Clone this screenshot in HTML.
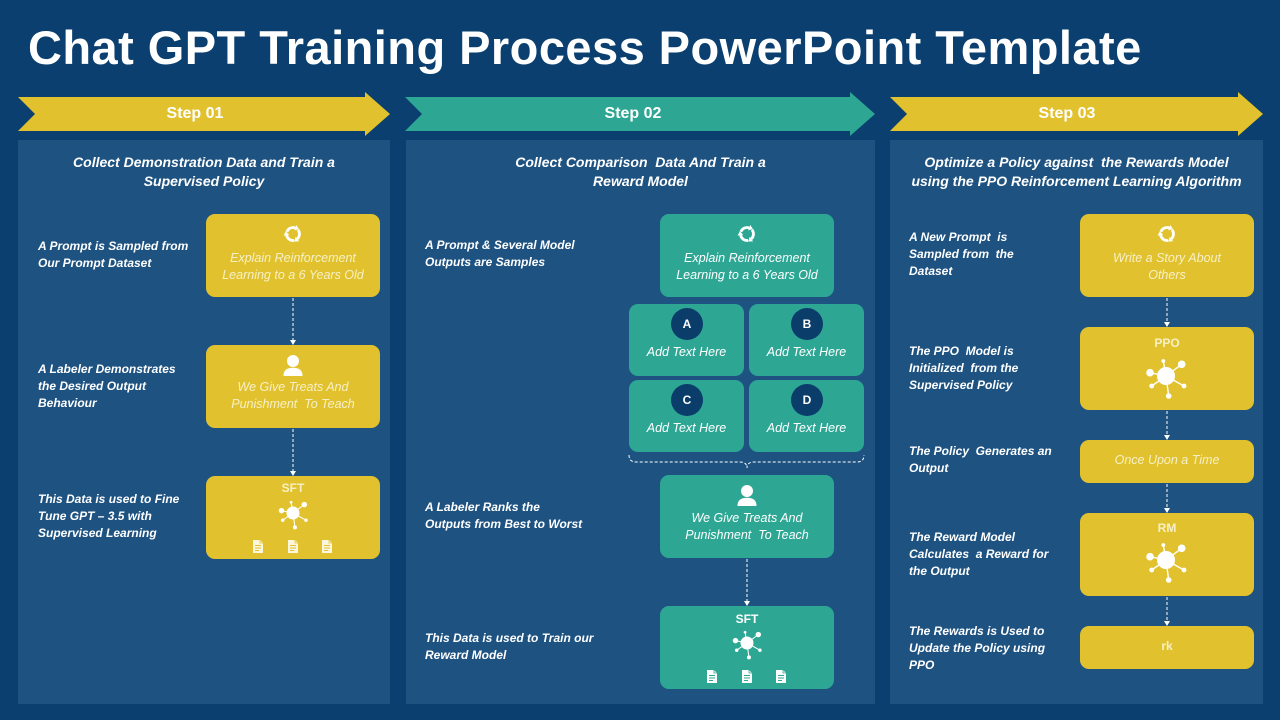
<!DOCTYPE html>
<html>
<head>
<meta charset="utf-8">
<style>
  html,body{margin:0;padding:0;}
  body{width:1280px;height:720px;background:#0a3f6f;position:relative;overflow:hidden;font-family:"Liberation Sans",Arial,sans-serif;}
  .abs{position:absolute;}
  .title{left:28px;top:20px;font-weight:bold;font-size:47px;line-height:56px;color:#fff;white-space:nowrap;letter-spacing:0.45px;}
  .panel{position:absolute;background:#1d5281;}
  .box{position:absolute;border-radius:9px;}
  .y{background:#e1c22e;}
  .t{background:#2da794;}
  .step{position:absolute;top:103px;font-weight:bold;font-size:16px;line-height:22px;color:#fff;text-align:center;white-space:nowrap;}
  .head{position:absolute;top:152.5px;font-weight:bold;font-style:italic;font-size:14px;line-height:19px;color:#fff;text-align:center;white-space:nowrap;}
  .lbl{position:absolute;font-weight:bold;font-style:italic;font-size:12px;line-height:17px;color:#fff;white-space:nowrap;}
  .bt{position:absolute;font-style:italic;font-size:12.5px;line-height:17px;text-align:center;white-space:nowrap;width:174px;}
  .by{color:#f7f0c6;}
  .bw{color:#ffffff;}
  .bb{position:absolute;font-weight:bold;font-size:12px;line-height:17px;text-align:center;width:174px;white-space:nowrap;}
  .abt{position:absolute;font-style:italic;font-size:12.5px;line-height:17px;color:#fff;text-align:center;width:115px;white-space:nowrap;}
  svg{position:absolute;left:0;top:0;}
</style>
</head>
<body>

<div class="abs title">Chat GPT Training Process PowerPoint Template</div>

<!-- panels -->
<div class="panel" style="left:18px;top:140px;width:372px;height:564px;"></div>
<div class="panel" style="left:406px;top:140px;width:469px;height:564px;"></div>
<div class="panel" style="left:890px;top:140px;width:373px;height:564px;"></div>

<!-- boxes col1 -->
<div class="box y" style="left:206px;top:214px;width:174px;height:83px;"></div>
<div class="box y" style="left:206px;top:345px;width:174px;height:83px;"></div>
<div class="box y" style="left:206px;top:476px;width:174px;height:83px;"></div>

<!-- boxes col2 -->
<div class="box t" style="left:660px;top:214px;width:174px;height:83px;"></div>
<div class="box t" style="left:629px;top:304px;width:115px;height:72px;"></div>
<div class="box t" style="left:749px;top:304px;width:115px;height:72px;"></div>
<div class="box t" style="left:629px;top:380px;width:115px;height:72px;"></div>
<div class="box t" style="left:749px;top:380px;width:115px;height:72px;"></div>
<div class="box t" style="left:660px;top:475px;width:174px;height:83px;"></div>
<div class="box t" style="left:660px;top:606px;width:174px;height:83px;"></div>

<!-- boxes col3 -->
<div class="box y" style="left:1080px;top:214px;width:174px;height:83px;"></div>
<div class="box y" style="left:1080px;top:327px;width:174px;height:83px;"></div>
<div class="box y" style="left:1080px;top:440px;width:174px;height:43px;"></div>
<div class="box y" style="left:1080px;top:513px;width:174px;height:83px;"></div>
<div class="box y" style="left:1080px;top:626px;width:174px;height:43px;"></div>

<svg width="1280" height="720" viewBox="0 0 1280 720" xmlns="http://www.w3.org/2000/svg">
  <defs>
    <g id="recp">
      <path d="M-6.1,-2.2 A6.5,6.5 0 0 1 2.2,-6.1" fill="none" stroke="#fff" stroke-width="2.8"/>
      <polygon points="5.9,-4.9 3.3,-9.0 1.2,-3.6" fill="#fff"/>
    </g>
    <g id="rec">
      <use href="#recp"/>
      <use href="#recp" transform="rotate(120)"/>
      <use href="#recp" transform="rotate(240)"/>
    </g>
    <g id="person" fill="#fff">
      <circle cx="0" cy="0" r="6"/>
      <path d="M-9.5,15 C-9.5,8.5 -5,6.8 0,6.8 C5,6.8 9.5,8.5 9.5,15 Z"/>
    </g>
    <g id="net" fill="#fff" stroke="#fff" stroke-width="1.4">
      <line x1="0" y1="0" x2="-2.7" y2="-15"/>
      <line x1="0" y1="0" x2="15.7" y2="-11.7"/>
      <line x1="0" y1="0" x2="-16" y2="-3.3"/>
      <line x1="0" y1="0" x2="-14.3" y2="10"/>
      <line x1="0" y1="0" x2="18" y2="10"/>
      <line x1="0" y1="0" x2="2.7" y2="20"/>
      <circle cx="0" cy="0" r="9" stroke="none"/>
      <circle cx="-2.7" cy="-15" r="1.9" stroke="none"/>
      <circle cx="15.7" cy="-11.7" r="3.8" stroke="none"/>
      <circle cx="-16" cy="-3.3" r="3.8" stroke="none"/>
      <circle cx="-14.3" cy="10" r="2.4" stroke="none"/>
      <circle cx="18" cy="10" r="2.4" stroke="none"/>
      <circle cx="2.7" cy="20" r="2.8" stroke="none"/>
    </g>
    <g id="docy">
      <path d="M0,0 H7 L10,3 V13 H0 Z" fill="#fbf6dc"/>
      <path d="M7,0 V3 H10" fill="none" stroke="#e1c22e" stroke-width="0.8"/>
      <line x1="2" y1="5.5" x2="8" y2="5.5" stroke="#e1c22e" stroke-width="1"/>
      <line x1="2" y1="8" x2="8" y2="8" stroke="#e1c22e" stroke-width="1"/>
      <line x1="2" y1="10.5" x2="6" y2="10.5" stroke="#e1c22e" stroke-width="1"/>
    </g>
    <g id="doct">
      <path d="M0,0 H7 L10,3 V13 H0 Z" fill="#ffffff"/>
      <path d="M7,0 V3 H10" fill="none" stroke="#2da794" stroke-width="0.8"/>
      <line x1="2" y1="5.5" x2="8" y2="5.5" stroke="#2da794" stroke-width="1"/>
      <line x1="2" y1="8" x2="8" y2="8" stroke="#2da794" stroke-width="1"/>
      <line x1="2" y1="10.5" x2="6" y2="10.5" stroke="#2da794" stroke-width="1"/>
    </g>
  </defs>

  <!-- step arrows -->
  <polygon points="18,97 365,97 365,92 390,114 365,136 365,131 18,131 35,114" fill="#e1c22e"/>
  <polygon points="405,97 850,97 850,92 875,114 850,136 850,131 405,131 422,114" fill="#2da794"/>
  <polygon points="890,97 1238,97 1238,92 1263,114 1238,136 1238,131 890,131 907,114" fill="#e1c22e"/>

  <!-- connectors -->
  <g stroke="#fff" stroke-width="1" stroke-dasharray="3,2" fill="none">
    <line x1="293" y1="298" x2="293" y2="340"/>
    <line x1="293" y1="429" x2="293" y2="471"/>
    <line x1="747" y1="559" x2="747" y2="601"/>
    <line x1="1167" y1="298" x2="1167" y2="322"/>
    <line x1="1167" y1="411" x2="1167" y2="435"/>
    <line x1="1167" y1="484" x2="1167" y2="508"/>
    <line x1="1167" y1="597" x2="1167" y2="621"/>
    <path d="M629,455 Q629,462 636,462 L740,462 Q747,462 747,468 Q747,462 754,462 L857,462 Q864,462 864,455"/>
  </g>
  <g fill="#fff">
    <polygon points="290,340 296,340 293,345"/>
    <polygon points="290,471 296,471 293,476"/>
    <polygon points="744,601 750,601 747,606"/>
    <polygon points="1164,322 1170,322 1167,327"/>
    <polygon points="1164,435 1170,435 1167,440"/>
    <polygon points="1164,508 1170,508 1167,513"/>
    <polygon points="1164,621 1170,621 1167,626"/>
  </g>

  <!-- icons col1 -->
  <use href="#rec" transform="translate(293,234)"/>
  <use href="#person" transform="translate(293,361)"/>
  <use href="#net" transform="translate(293,513) scale(0.72)"/>
  <use href="#docy" transform="translate(253,540)"/>
  <use href="#docy" transform="translate(288,540)"/>
  <use href="#docy" transform="translate(322,540)"/>

  <!-- icons col2 -->
  <use href="#rec" transform="translate(747,234)"/>
  <circle cx="687" cy="324" r="16" fill="#0b3d6b"/>
  <circle cx="807" cy="324" r="16" fill="#0b3d6b"/>
  <circle cx="687" cy="400" r="16" fill="#0b3d6b"/>
  <circle cx="807" cy="400" r="16" fill="#0b3d6b"/>
  <use href="#person" transform="translate(747,491)"/>
  <use href="#net" transform="translate(747,643) scale(0.72)"/>
  <use href="#doct" transform="translate(707,670)"/>
  <use href="#doct" transform="translate(742,670)"/>
  <use href="#doct" transform="translate(776,670)"/>

  <!-- icons col3 -->
  <use href="#rec" transform="translate(1167,234)"/>
  <use href="#net" transform="translate(1166,376)"/>
  <use href="#net" transform="translate(1166,560)"/>
</svg>

<!-- step labels -->
<div class="step" style="left:145px;width:100px;">Step 01</div>
<div class="step" style="left:583px;width:100px;">Step 02</div>
<div class="step" style="left:1017px;width:100px;">Step 03</div>

<!-- headings -->
<div class="head" style="left:18px;width:372px;">Collect Demonstration Data and Train a<br>Supervised Policy</div>
<div class="head" style="left:406px;width:469px;">Collect Comparison&nbsp; Data And Train a<br>Reward Model</div>
<div class="head" style="left:890px;width:373px;">Optimize a Policy against&nbsp; the Rewards Model<br>using the PPO Reinforcement Learning Algorithm</div>

<!-- labels col1 -->
<div class="lbl" style="left:38px;top:237.5px;">A Prompt is Sampled from<br>Our Prompt Dataset</div>
<div class="lbl" style="left:38px;top:360.5px;">A Labeler Demonstrates<br>the Desired Output<br>Behaviour</div>
<div class="lbl" style="left:38px;top:490.5px;">This Data is used to Fine<br>Tune GPT – 3.5 with<br>Supervised Learning</div>

<!-- labels col2 -->
<div class="lbl" style="left:425px;top:236.5px;">A Prompt &amp; Several Model<br>Outputs are Samples</div>
<div class="lbl" style="left:425px;top:498.5px;">A Labeler Ranks the<br>Outputs from Best to Worst</div>
<div class="lbl" style="left:425px;top:629.5px;">This Data is used to Train our<br>Reward Model</div>

<!-- labels col3 -->
<div class="lbl" style="left:909px;top:228.5px;">A New Prompt&nbsp; is<br>Sampled from&nbsp; the<br>Dataset</div>
<div class="lbl" style="left:909px;top:342.5px;">The PPO&nbsp; Model is<br>Initialized&nbsp; from the<br>Supervised Policy</div>
<div class="lbl" style="left:909px;top:442.5px;">The Policy&nbsp; Generates an<br>Output</div>
<div class="lbl" style="left:909px;top:528.5px;">The Reward Model<br>Calculates&nbsp; a Reward for<br>the Output</div>
<div class="lbl" style="left:909px;top:622.5px;">The Rewards is Used to<br>Update the Policy using<br>PPO</div>

<!-- box text col1 -->
<div class="bt by" style="left:206px;top:249.5px;">Explain Reinforcement<br>Learning to a 6 Years Old</div>
<div class="bt by" style="left:206px;top:378.5px;">We Give Treats And<br>Punishment&nbsp; To Teach</div>
<div class="bb by" style="left:206px;top:480px;">SFT</div>

<!-- box text col2 -->
<div class="bt bw" style="left:660px;top:249.5px;">Explain Reinforcement<br>Learning to a 6 Years Old</div>
<div class="bb bw" style="left:600px;top:315.5px;">A</div>
<div class="bb bw" style="left:720px;top:315.5px;">B</div>
<div class="bb bw" style="left:600px;top:391.5px;">C</div>
<div class="bb bw" style="left:720px;top:391.5px;">D</div>
<div class="abt" style="left:629px;top:343.5px;">Add Text Here</div>
<div class="abt" style="left:749px;top:343.5px;">Add Text Here</div>
<div class="abt" style="left:629px;top:419.5px;">Add Text Here</div>
<div class="abt" style="left:749px;top:419.5px;">Add Text Here</div>
<div class="bt bw" style="left:660px;top:510px;">We Give Treats And<br>Punishment&nbsp; To Teach</div>
<div class="bb bw" style="left:660px;top:610.5px;">SFT</div>

<!-- box text col3 -->
<div class="bt by" style="left:1080px;top:249.5px;">Write a Story About<br>Others</div>
<div class="bb by" style="left:1080px;top:334.5px;">PPO</div>
<div class="bt by" style="left:1080px;top:451.5px;">Once Upon a Time</div>
<div class="bb by" style="left:1080px;top:519.5px;">RM</div>
<div class="bb by" style="left:1080px;top:637.5px;">rk</div>

</body>
</html>
